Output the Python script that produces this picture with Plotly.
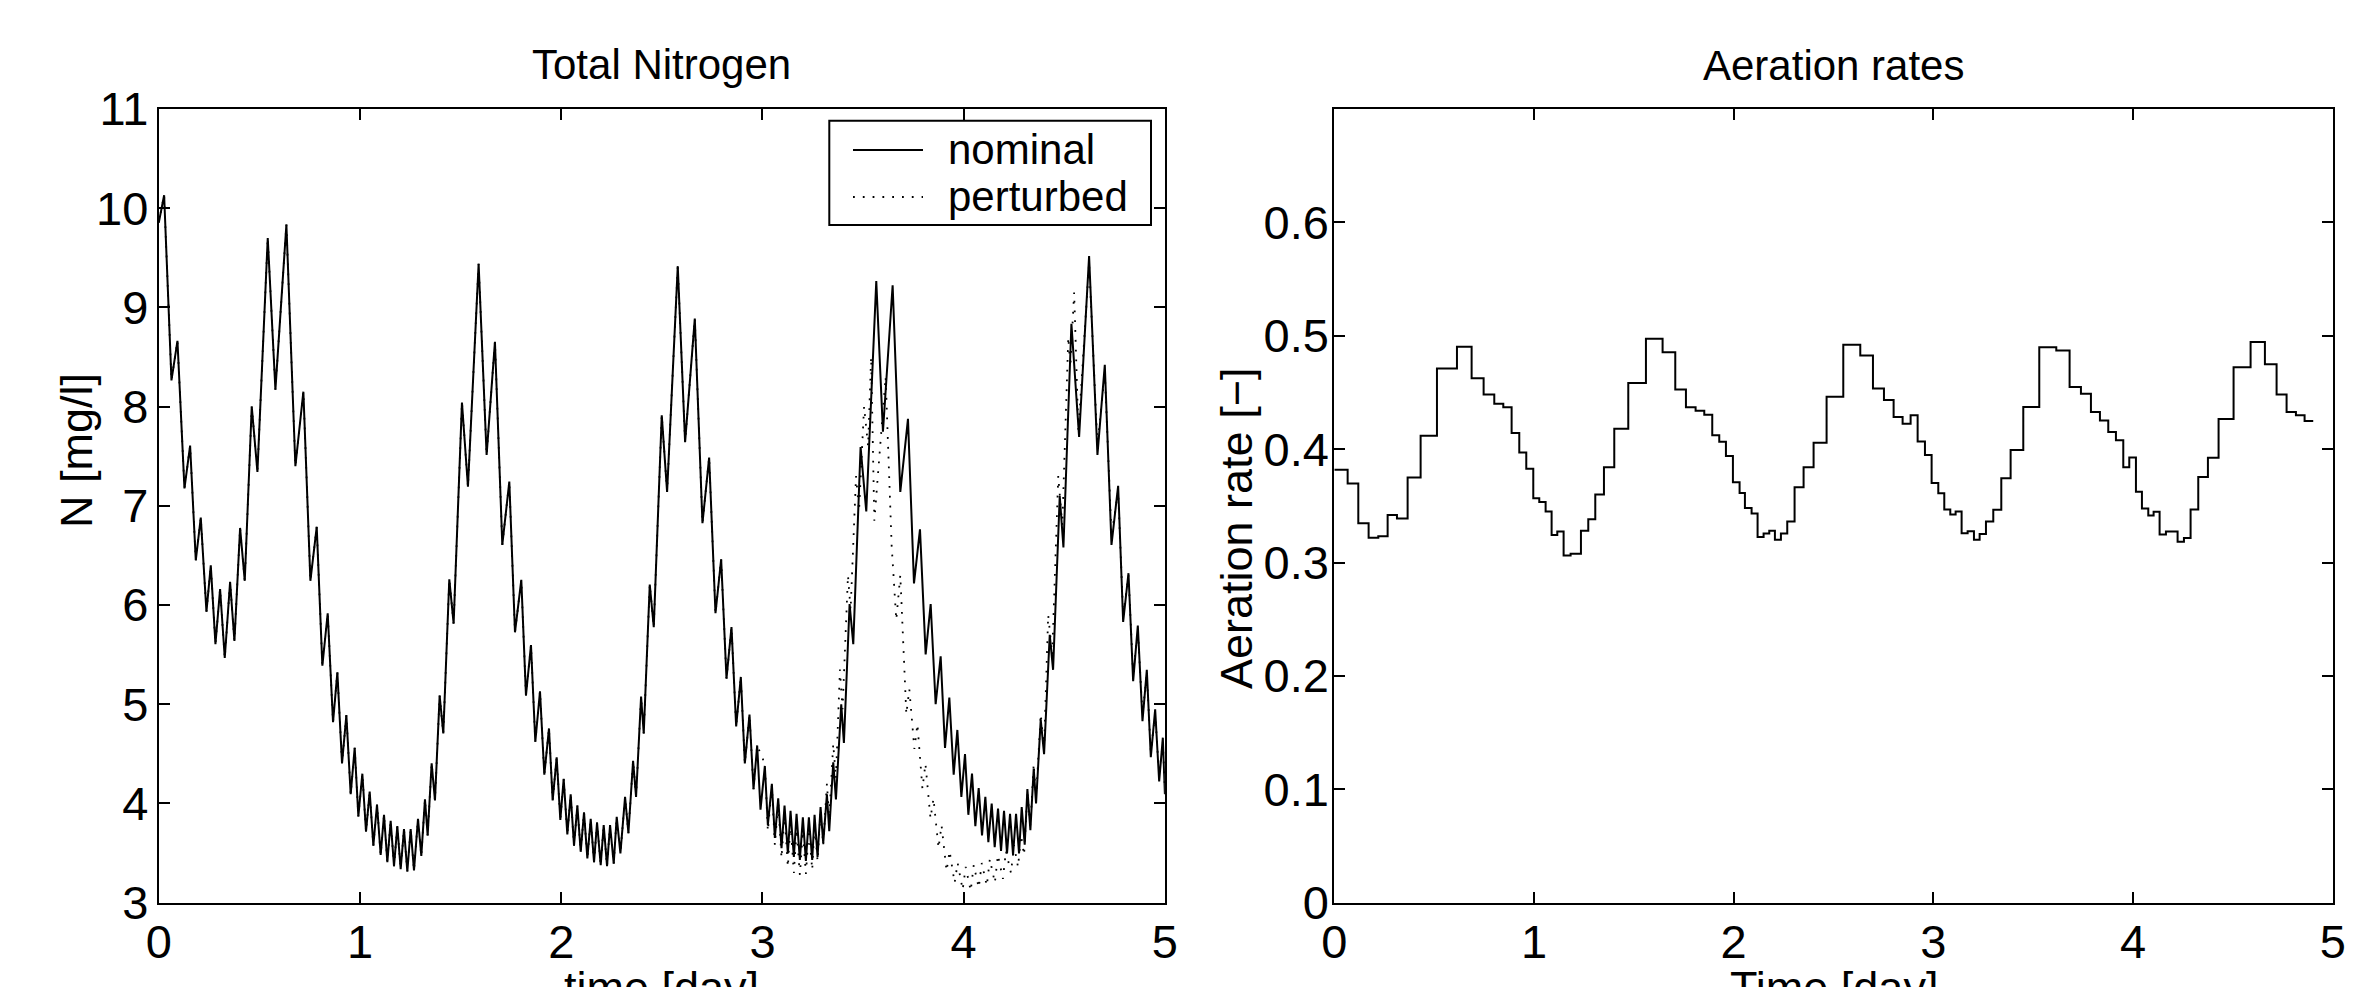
import plotly.graph_objects as go

# ---------------- data ----------------
# Total nitrogen, nominal run: turning points of the trace (time [day], N [mg/l])
nom_t = [0.0, 0.0265, 0.0629, 0.0927, 0.1275, 0.1556, 0.1838, 0.2086, 0.2368, 0.2583,
         0.2815, 0.3046, 0.3278, 0.3543, 0.3758, 0.4040, 0.4272, 0.4619, 0.4901, 0.5414,
         0.5795, 0.6341, 0.6788, 0.7185, 0.7533, 0.7848, 0.8129, 0.8394, 0.8659, 0.8874,
         0.9106, 0.9321, 0.9536, 0.9735, 0.9917, 1.0116, 1.0298, 1.0480, 1.0662, 1.0844,
         1.1026, 1.1192, 1.1358, 1.1523, 1.1689, 1.1854, 1.2020, 1.2185, 1.2351, 1.2517,
         1.2682, 1.2881, 1.3046, 1.3228, 1.3361, 1.3560, 1.3725, 1.3957, 1.4139, 1.4437,
         1.4652, 1.5066, 1.5364, 1.5894, 1.6291, 1.6705,
         1.7071, 1.7419, 1.7701, 1.8015, 1.8247, 1.8496, 1.8712, 1.8944, 1.9159, 1.9391,
         1.9574, 1.9773, 1.9955, 2.0121, 2.0303, 2.0469, 2.0635, 2.0801, 2.0967, 2.1132,
         2.1298, 2.1464, 2.1630, 2.1779, 2.1961, 2.2110, 2.2276, 2.2426, 2.2608, 2.2757,
         2.2940, 2.3172, 2.3338, 2.3570, 2.3719, 2.3968, 2.4100, 2.4399, 2.4598, 2.4995,
         2.5261, 2.5791, 2.6156, 2.6637, 2.7018, 2.7350, 2.7665, 2.7947, 2.8212, 2.8461,
         2.8693, 2.8925, 2.9124, 2.9356, 2.9555, 2.9737, 2.9903, 3.0119, 3.0268, 3.0467,
         3.0616, 3.0782, 3.0947, 3.1097, 3.1262, 3.1395, 3.1561, 3.1694, 3.1859, 3.2008,
         3.2158, 3.2307, 3.2473, 3.2589, 3.2738, 3.2888, 3.3020, 3.3203, 3.3319, 3.3518,
         3.3651,
         3.3915, 3.4048, 3.4330, 3.4513, 3.4877, 3.5159, 3.5656, 3.5988, 3.6469, 3.6850,
         3.7232, 3.7530, 3.7828, 3.8110, 3.8359, 3.8607, 3.8856, 3.9072, 3.9287, 3.9503,
         3.9685, 3.9884, 4.0066, 4.0232, 4.0414, 4.0580, 4.0746, 4.0912, 4.1077, 4.1226,
         4.1392, 4.1541, 4.1707, 4.1856, 4.2005, 4.2154, 4.2304, 4.2453, 4.2602, 4.2751,
         4.2884, 4.3033, 4.3166, 4.3315, 4.3481, 4.3597, 4.3829, 4.3995, 4.4277, 4.4443,
         4.4774, 4.4957, 4.5354, 4.5736, 4.6233, 4.6648, 4.7013, 4.7345, 4.7676, 4.7925,
         4.8190, 4.8422, 4.8654, 4.8886, 4.9101, 4.9300, 4.9516, 4.9715, 4.9897, 5.0]
nom_n = [9.855, 10.13, 8.264, 8.663, 7.176, 7.606, 6.451, 6.881, 5.933, 6.399,
         5.606, 6.161, 5.466, 6.233, 5.637, 6.777, 6.244, 8.000, 7.342, 9.699,
         8.171, 9.834, 7.399, 8.150, 6.244, 6.788, 5.389, 5.917, 4.819, 5.321,
         4.404, 4.891, 4.093, 4.560, 3.870, 4.300, 3.715, 4.119, 3.575, 3.990,
         3.482, 3.886, 3.409, 3.824, 3.368, 3.772, 3.337, 3.741, 3.316, 3.741,
         3.326, 3.845, 3.472, 4.041, 3.679, 4.404, 4.031, 5.088, 4.705, 6.259,
         5.813, 8.041, 7.192, 9.440, 7.513, 8.653,
         6.606, 7.244, 5.725, 6.254, 5.088, 5.596, 4.622, 5.130, 4.290, 4.756,
         4.031, 4.466, 3.834, 4.249, 3.689, 4.093, 3.575, 3.979, 3.513, 3.912,
         3.446, 3.845, 3.409, 3.808, 3.378, 3.782, 3.368, 3.782, 3.394, 3.865,
         3.497, 4.067, 3.700, 4.430, 4.067, 5.078, 4.705, 6.207, 5.777, 7.912,
         7.140, 9.415, 7.642, 8.886, 6.824, 7.487, 5.917, 6.461, 5.259, 5.777,
         4.777, 5.275, 4.404, 4.896, 4.145, 4.585, 3.938, 4.378, 3.782, 4.197,
         3.653, 4.052, 3.549, 3.979, 3.497, 3.927, 3.461, 3.896, 3.430, 3.860,
         3.420, 3.860, 3.430, 3.886, 3.461, 3.964, 3.601, 4.093, 3.720, 4.415,
         4.041,
         5.000, 4.611, 6.010, 5.606, 7.591, 6.943, 9.264, 7.746, 9.223, 7.140,
         7.876, 6.218, 6.762, 5.503, 6.010, 5.000, 5.482, 4.560, 5.067, 4.290,
         4.741, 4.067, 4.497, 3.886, 4.301, 3.772, 4.155, 3.679, 4.067, 3.611,
         4.000, 3.560, 3.948, 3.523, 3.927, 3.497, 3.896, 3.482, 3.896, 3.497,
         3.964, 3.585, 4.145, 3.731, 4.352, 4.000, 4.845, 4.497, 5.700, 5.347,
         7.098, 6.580, 8.834, 7.694, 9.518, 7.513, 8.420, 6.606, 7.202, 5.829,
         6.321, 5.233, 5.793, 4.829, 5.347, 4.466, 4.948, 4.222, 4.663, 4.093]

# Perturbed run: identical to the nominal trace up to this time, then differs
pert_split_t = 2.9737
pert_tail_t = [3.0119, 3.0268, 3.0467, 3.0616, 3.0782, 3.0947, 3.1097, 3.1262, 3.1395,
               3.1561, 3.1694, 3.1859, 3.2008, 3.2158, 3.2307, 3.2473, 3.2589, 3.2738,
               3.2888, 3.3020, 3.3203, 3.3319, 3.3518, 3.3651, 3.3850, 3.3980, 3.4250,
               3.4380, 3.4650, 3.4800, 3.5050, 3.5250, 3.5400, 3.5560, 3.6120, 3.6420,
               3.6650, 3.6850, 3.7150, 3.7300, 3.7550, 3.7700, 3.7950, 3.8100, 3.8350,
               3.8500, 3.8750, 3.8900, 3.9150, 3.9300, 3.9550, 3.9700, 3.9950, 4.0100,
               4.0350, 4.0500, 4.0750, 4.0900, 4.1150, 4.1300, 4.1550, 4.1700, 4.1950,
               4.2100, 4.2350, 4.2500, 4.2700, 4.2850, 4.3000, 4.3166, 4.3315, 4.3481,
               4.3597, 4.3829, 4.3995, 4.4200, 4.4400, 4.4700, 4.4900, 4.5200, 4.5300,
               4.5490, 4.5700, 4.6233, 4.6648, 4.7013, 4.7345, 4.7676, 4.7925, 4.8190,
               4.8422, 4.8654, 4.8886, 4.9101, 4.9300, 4.9516, 4.9715, 4.9897, 5.0]
pert_tail_n = [4.40, 3.72, 4.18, 3.58, 4.02, 3.45, 3.90, 3.36, 3.80,
               3.30, 3.74, 3.28, 3.72, 3.29, 3.74, 3.33, 3.80, 3.42,
               3.92, 3.58, 4.20, 3.85, 4.60, 4.25, 5.35, 4.95, 6.30,
               5.95, 7.30, 6.95, 8.00, 7.60, 8.50, 6.85, 8.30, 6.60,
               5.85, 6.30, 4.90, 5.15, 4.55, 4.80, 4.15, 4.40, 3.85,
               4.05, 3.55, 3.78, 3.32, 3.52, 3.20, 3.40, 3.13, 3.36,
               3.12, 3.38, 3.15, 3.40, 3.17, 3.44, 3.20, 3.48, 3.24,
               3.52, 3.30, 3.58, 3.36, 3.68, 3.48, 4.10, 3.78, 4.40,
               4.05, 4.90, 4.55, 5.90, 5.50, 7.30, 6.80, 8.70, 8.40,
               9.15, 7.75, 9.45, 7.60, 8.35, 6.70, 7.15, 5.90, 6.30,
               5.30, 5.75, 4.90, 5.30, 4.52, 4.90, 4.28, 4.62, 4.15]

# Aeration rate: start time of every step [day] (last entry = end of last step) and level [-]
aer_t = [0.0000, 0.0668, 0.1202, 0.1719, 0.2203, 0.2671, 0.3138, 0.3672, 0.4323, 0.5141,
         0.6143, 0.6877, 0.7478, 0.8012, 0.8463, 0.8880, 0.9264, 0.9614, 0.9965, 1.0265,
         1.0583, 1.0883, 1.1167, 1.1484, 1.1834, 1.2352, 1.2719, 1.3070, 1.3504, 1.4021,
         1.4722, 1.5607, 1.6441, 1.7076, 1.7610, 1.8094, 1.8528, 1.8928, 1.9279, 1.9613,
         1.9963, 2.0297, 2.0564, 2.0898, 2.1198, 2.1499, 2.1783, 2.2066, 2.2367, 2.2684,
         2.3051, 2.3502, 2.4003, 2.4654, 2.5490, 2.6341, 2.6976, 2.7527, 2.8011, 2.8461,
         2.8862, 2.9213, 2.9580, 2.9914, 3.0248, 3.0548, 3.0849, 3.1116, 3.1416, 3.1717,
         3.2034, 3.2318, 3.2635, 3.3002, 3.3403, 3.3870, 3.4504, 3.5305, 3.6157, 3.6824,
         3.7392, 3.7892, 3.8343, 3.8760, 3.9144, 3.9512, 3.9812, 4.0146, 4.0446, 4.0764,
         4.1031, 4.1331, 4.1648, 4.2232, 4.2550, 4.2883, 4.3267, 4.3751, 4.4285, 4.5036,
         4.5888, 4.6605, 4.7190, 4.7691, 4.8158, 4.8592, 4.9025]
aer_v = [0.3818, 0.3696, 0.3347, 0.3219, 0.3231, 0.3418, 0.3388, 0.3750, 0.4117, 0.4710,
         0.4902, 0.4624, 0.4481, 0.4399, 0.4369, 0.4141, 0.3969, 0.3827, 0.3566, 0.3533,
         0.3450, 0.3243, 0.3273, 0.3062, 0.3077, 0.3281, 0.3382, 0.3599, 0.3841, 0.4179,
         0.4582, 0.4973, 0.4855, 0.4526, 0.4369, 0.4339, 0.4304, 0.4123, 0.4064, 0.3939,
         0.3708, 0.3613, 0.3480, 0.3433, 0.3225, 0.3255, 0.3279, 0.3201, 0.3255, 0.3361,
         0.3664, 0.3841, 0.4055, 0.4461, 0.4920, 0.4825, 0.4535, 0.4434, 0.4283, 0.4224,
         0.4298, 0.4067, 0.3948, 0.3702, 0.3610, 0.3468, 0.3424, 0.3450, 0.3258, 0.3276,
         0.3201, 0.3252, 0.3361, 0.3465, 0.3744, 0.3993, 0.4372, 0.4899, 0.4870, 0.4547,
         0.4487, 0.4327, 0.4253, 0.4150, 0.4079, 0.3839, 0.3927, 0.3625, 0.3477, 0.3415,
         0.3447, 0.3246, 0.3273, 0.3184, 0.3216, 0.3468, 0.3753, 0.3924, 0.4265, 0.4721,
         0.4944, 0.4748, 0.4481, 0.4327, 0.4298, 0.4247]

n_ticks = [3, 4, 5, 6, 7, 8, 9, 10, 11]
aer_ticks = [0, 0.1, 0.2, 0.3, 0.4, 0.5, 0.6]
aer_ticktext = ["0", "0.1", "0.2", "0.3", "0.4", "0.5", "0.6"]
day_ticks = [0, 1, 2, 3, 4, 5]

# ---------------- figure ----------------
W, H = 2371, 987
FONT = "Liberation Sans, Arial, Helvetica, sans-serif"
TICK_SIZE = 47
TITLE_SIZE = 42
LABEL_SIZE = 45
LEGEND_SIZE = 42
LW = 2.0

def fx(px):
    return px / W

def fy(px):
    return 1 - px / H

# perturbed = nominal up to the split, then its own trace
k = nom_t.index(pert_split_t)
pert_t = nom_t[:k + 1] + pert_tail_t
pert_n = nom_n[:k + 1] + pert_tail_n

# step trace for aeration rate (hold last level until end time)
aer_y = aer_v + [aer_v[-1]]

DOT = "1.8px,8px"

fig = go.Figure()
fig.add_trace(go.Scatter(x=nom_t, y=nom_n, mode="lines", name="nominal",
                         line=dict(color="black", width=LW), xaxis="x", yaxis="y",
                         showlegend=False))
fig.add_trace(go.Scatter(x=pert_t, y=pert_n, mode="lines", name="perturbed",
                         line=dict(color="black", width=1.8, dash=DOT),
                         xaxis="x", yaxis="y", showlegend=False))
fig.add_trace(go.Scatter(x=aer_t, y=aer_y, mode="lines", line_shape="hv",
                         line=dict(color="black", width=LW), xaxis="x2", yaxis="y2",
                         showlegend=False))

axis_common = dict(showline=True, linecolor="black", linewidth=2, mirror="ticks",
                   ticks="inside", ticklen=11, tickwidth=1.5, tickcolor="black",
                   showgrid=False, zeroline=False, automargin=False,
                   tickfont=dict(family=FONT, size=TICK_SIZE, color="black"))

xl0, xl1 = 158.8, 1164.9
xr0, xr1 = 1334.3, 2332.7
yt, yb = 108.9, 902.7

fig.update_layout(
    width=W, height=H,
    margin=dict(l=0, r=0, t=0, b=0, pad=0, autoexpand=False),
    paper_bgcolor="white", plot_bgcolor="white",
    xaxis=dict(domain=[fx(xl0), fx(xl1)], range=[0, 5], tickvals=day_ticks,
               anchor="y", ticklabelstandoff=-3, **axis_common),
    yaxis=dict(domain=[fy(yb), fy(yt)], range=[3, 11], tickvals=n_ticks,
               anchor="x", ticklabelstandoff=-1, **axis_common),
    xaxis2=dict(domain=[fx(xr0), fx(xr1)], range=[0, 5], tickvals=day_ticks,
                anchor="y2", ticklabelstandoff=-3, **axis_common),
    yaxis2=dict(domain=[fy(yb), fy(yt)], range=[0, 0.7], tickvals=aer_ticks,
                ticktext=aer_ticktext, anchor="x2", ticklabelstandoff=-6, **axis_common),
)

anns = []
# titles
anns.append(dict(text="Total Nitrogen", x=fx((xl0 + xl1) / 2), y=fy(64), xref="paper",
                 yref="paper", xanchor="center", yanchor="middle", showarrow=False,
                 font=dict(family=FONT, size=TITLE_SIZE, color="black")))
anns.append(dict(text="Aeration rates", x=fx((xr0 + xr1) / 2), y=fy(66), xref="paper",
                 yref="paper", xanchor="center", yanchor="middle", showarrow=False,
                 font=dict(family=FONT, size=TITLE_SIZE, color="black")))
# axis titles
anns.append(dict(text="N [mg/l]", x=fx(76), y=fy(451), xref="paper", yref="paper",
                 xanchor="center", yanchor="middle", showarrow=False, textangle=-90,
                 font=dict(family=FONT, size=LABEL_SIZE, color="black")))
anns.append(dict(text="Aeration rate [\u2212]", x=fx(1236), y=fy(529), xref="paper",
                 yref="paper", xanchor="center", yanchor="middle", showarrow=False,
                 textangle=-90, font=dict(family=FONT, size=LABEL_SIZE, color="black")))
anns.append(dict(text="time [day]", x=fx((xl0 + xl1) / 2), y=fy(960), xref="paper",
                 yref="paper", xanchor="center", yanchor="top", showarrow=False,
                 font=dict(family=FONT, size=LABEL_SIZE, color="black")))
anns.append(dict(text="Time [day]", x=fx((xr0 + xr1) / 2), y=fy(960), xref="paper",
                 yref="paper", xanchor="center", yanchor="top", showarrow=False,
                 font=dict(family=FONT, size=LABEL_SIZE, color="black")))
# legend text
anns.append(dict(text="nominal", x=fx(946), y=fy(150), xref="paper", yref="paper",
                 xanchor="left", yanchor="middle", showarrow=False,
                 font=dict(family=FONT, size=LEGEND_SIZE, color="black")))
anns.append(dict(text="perturbed", x=fx(946), y=fy(196), xref="paper", yref="paper",
                 xanchor="left", yanchor="middle", showarrow=False,
                 font=dict(family=FONT, size=LEGEND_SIZE, color="black")))

shapes = [
    dict(type="rect", xref="paper", yref="paper", x0=fx(829.3), x1=fx(1151),
         y0=fy(225), y1=fy(120.7), line=dict(color="black", width=2),
         fillcolor="white", layer="above"),
    dict(type="line", xref="paper", yref="paper", x0=fx(853), x1=fx(923),
         y0=fy(150), y1=fy(150), line=dict(color="black", width=LW)),
    dict(type="line", xref="paper", yref="paper", x0=fx(853), x1=fx(923),
         y0=fy(197), y1=fy(197), line=dict(color="black", width=1.8, dash=DOT)),
]

fig.update_layout(annotations=anns, shapes=shapes)

fig.write_html("out.html", config={"displayModeBar": False},
               post_script="document.body.style.margin='0';document.body.style.overflow='hidden';")
